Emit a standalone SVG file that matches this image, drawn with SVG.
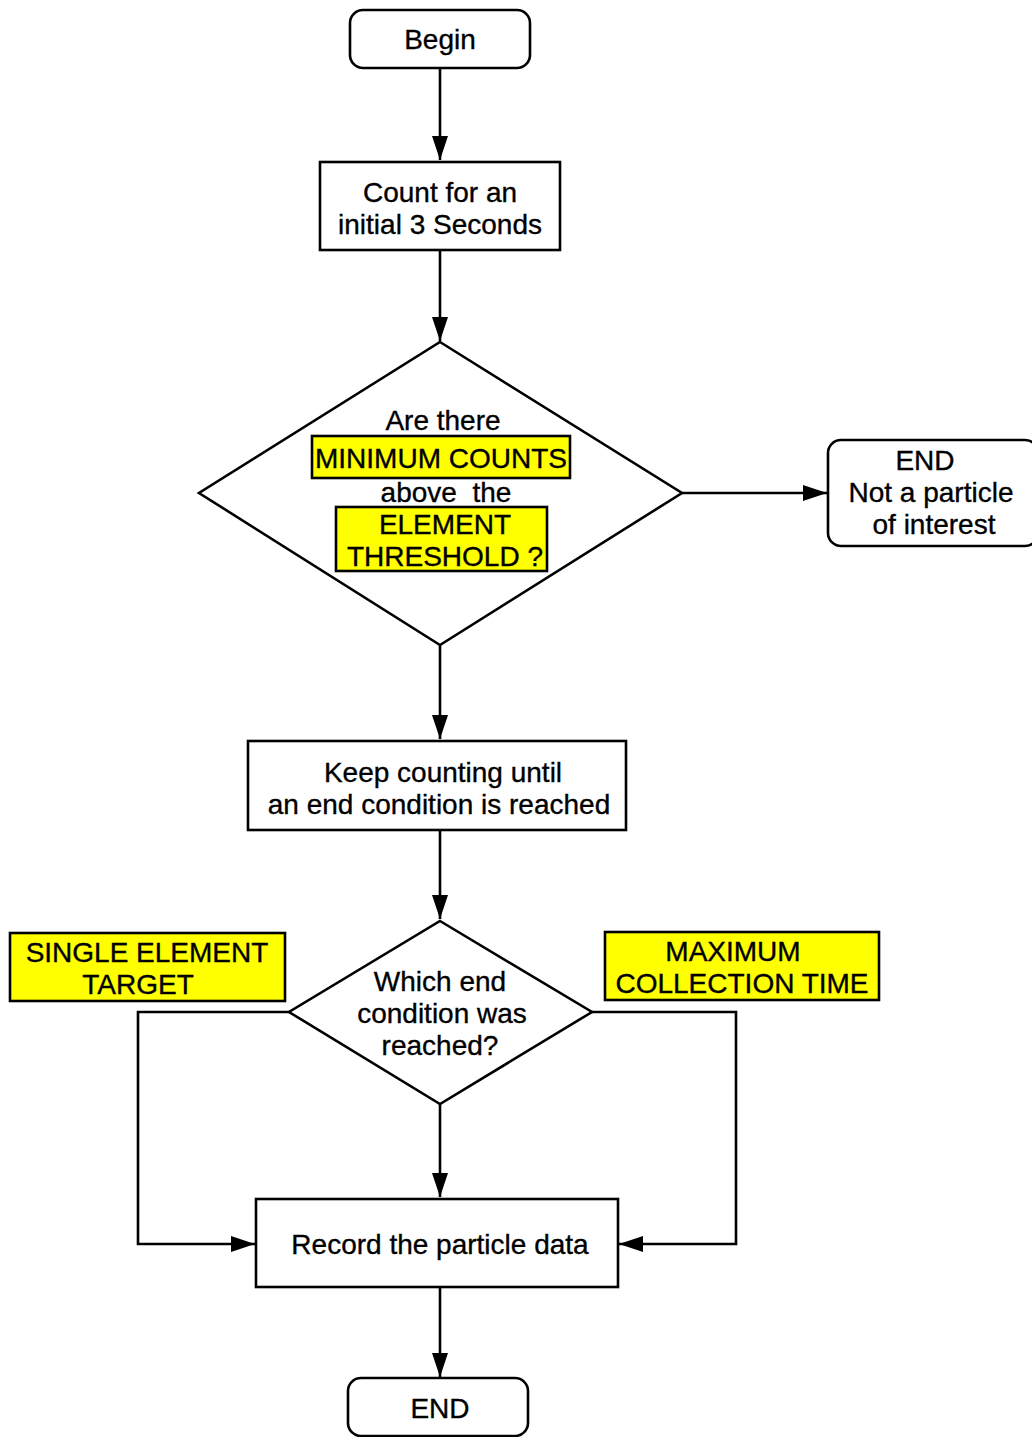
<svg xmlns="http://www.w3.org/2000/svg" width="1032" height="1437" viewBox="0 0 1032 1437">
<defs>
<marker id="arr" markerUnits="userSpaceOnUse" markerWidth="24" markerHeight="16" viewBox="0 0 24 16" refX="24" refY="8" orient="auto">
<path d="M0,0 L24,8 L0,16 Z" fill="#000"/>
</marker>
</defs>
<style>
.n{fill:#fff;stroke:#000;stroke-width:2.6}
.y{fill:#ffff00;stroke:#000;stroke-width:2.6}
.c{fill:none;stroke:#000;stroke-width:2.6;marker-end:url(#arr)}
text{font-family:"Liberation Sans",Arial,sans-serif;font-size:28px;fill:#000;stroke:#000;stroke-width:0.35;text-anchor:middle}
</style>
<rect width="1032" height="1437" fill="#fff"/>
<g id="connectors">
<path class="c" d="M440,68 V160"/>
<path class="c" d="M440,250 V341"/>
<path class="c" d="M682,493 H827"/>
<path class="c" d="M440,645 V739"/>
<path class="c" d="M440,830 V919"/>
<path class="c" d="M289,1012 H138 V1244 H255"/>
<path class="c" d="M592,1012 H736 V1244 H619"/>
<path class="c" d="M440,1104 V1197"/>
<path class="c" d="M440,1287 V1377"/>
</g>
<g id="begin">
<rect class="n" x="350" y="10" width="180" height="58" rx="13"/>
<text x="440" y="49">Begin</text>
</g>
<g id="count">
<rect class="n" x="320" y="162" width="240" height="88"/>
<text x="440" y="202">Count for an</text>
<text x="440" y="234">initial 3 Seconds</text>
</g>
<g id="decision1">
<polygon class="n" points="440,342 682,493 440,645 199,493"/>
<text x="443" y="430">Are there</text>
<rect class="y" x="312" y="436" width="258" height="42"/>
<text x="441" y="468">MINIMUM COUNTS</text>
<text x="446" y="502" xml:space="preserve">above  the</text>
<rect class="y" x="336" y="507" width="211" height="64"/>
<text x="445" y="534">ELEMENT</text>
<text x="445" y="566">THRESHOLD ?</text>
</g>
<g id="end1">
<rect class="n" x="828" y="440" width="210" height="106" rx="13"/>
<text x="925" y="470">END</text>
<text x="931" y="502">Not a particle</text>
<text x="934" y="534">of interest</text>
</g>
<g id="keep">
<rect class="n" x="248" y="741" width="378" height="89"/>
<text x="443" y="782">Keep counting until</text>
<text x="439" y="814">an end condition is reached</text>
</g>
<g id="decision2">
<polygon class="n" points="440,921 592,1012 440,1104 289,1012"/>
<text x="440" y="991">Which end</text>
<text x="442" y="1023">condition was</text>
<text x="440" y="1055">reached?</text>
</g>
<g id="single">
<rect class="y" x="10" y="933" width="275" height="68"/>
<text x="147" y="962">SINGLE ELEMENT</text>
<text x="138" y="994">TARGET</text>
</g>
<g id="maxtime">
<rect class="y" x="605" y="932" width="274" height="68"/>
<text x="733" y="961">MAXIMUM</text>
<text x="742" y="993">COLLECTION TIME</text>
</g>
<g id="record">
<rect class="n" x="256" y="1199" width="362" height="88"/>
<text x="440" y="1254">Record the particle data</text>
</g>
<g id="end2">
<rect class="n" x="348" y="1378" width="180" height="58" rx="13"/>
<text x="440" y="1418">END</text>
</g>
</svg>
